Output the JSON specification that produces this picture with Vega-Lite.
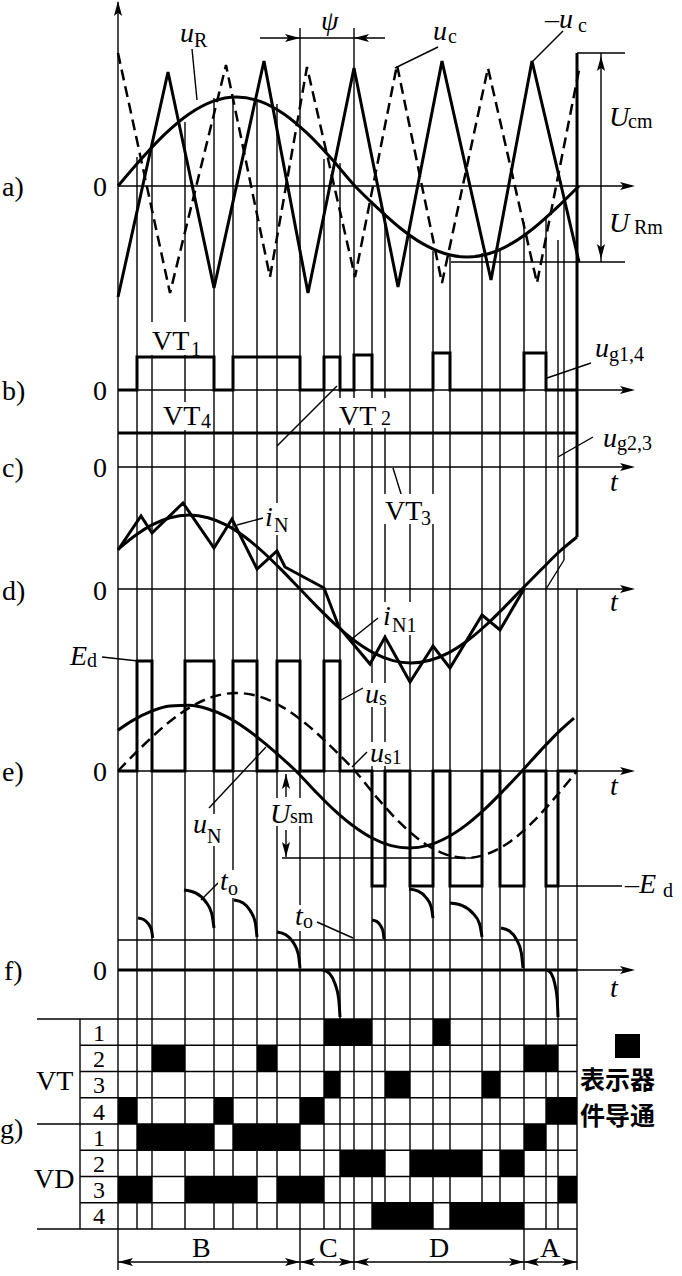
{
"$schema":"https://vega.github.io/schema/vega-lite/v6.json",
"width":682,"height":1276,
"autosize":{"type":"fit","contains":"padding"},
"padding":0,
"background":"white",
"config":{"view":{"stroke":null}},
"datasets":{
"rules":[
{"x":118,"y":2,"x2":118,"y2":1270},
{"x":137,"y":157,"x2":137,"y2":1229},
{"x":152,"y":147,"x2":152,"y2":1229},
{"x":185,"y":122,"x2":185,"y2":1229},
{"x":214,"y":98,"x2":214,"y2":1229},
{"x":233,"y":98,"x2":233,"y2":1229},
{"x":257,"y":100,"x2":257,"y2":1229},
{"x":277,"y":104,"x2":277,"y2":1229},
{"x":300,"y":28,"x2":300,"y2":1270},
{"x":324,"y":159,"x2":324,"y2":1229},
{"x":340,"y":163,"x2":340,"y2":1229},
{"x":354,"y":28,"x2":354,"y2":1270},
{"x":372,"y":201,"x2":372,"y2":1229},
{"x":385,"y":213,"x2":385,"y2":1229},
{"x":410,"y":236,"x2":410,"y2":1229},
{"x":433,"y":251,"x2":433,"y2":1229},
{"x":450,"y":256,"x2":450,"y2":1229},
{"x":482,"y":253,"x2":482,"y2":1229},
{"x":500,"y":249,"x2":500,"y2":1229},
{"x":524,"y":222,"x2":524,"y2":1270},
{"x":546,"y":217,"x2":546,"y2":1229},
{"x":558,"y":240,"x2":558,"y2":1229},
{"x":564,"y":200,"x2":564,"y2":560},
{"x":577,"y":589,"x2":577,"y2":1270},
{"x":80,"y":1019,"x2":80,"y2":1229},
{"x":118,"y":186,"x2":632,"y2":186},
{"x":118,"y":390,"x2":632,"y2":390},
{"x":118,"y":467,"x2":632,"y2":467},
{"x":118,"y":589,"x2":632,"y2":589},
{"x":118,"y":771,"x2":632,"y2":771},
{"x":577,"y":970,"x2":632,"y2":970},
{"x":118,"y":940,"x2":577,"y2":940},
{"x":37,"y":1019,"x2":577,"y2":1019},
{"x":80,"y":1045.25,"x2":577,"y2":1045.25},
{"x":80,"y":1071.5,"x2":577,"y2":1071.5},
{"x":80,"y":1097.75,"x2":577,"y2":1097.75},
{"x":37,"y":1124,"x2":577,"y2":1124},
{"x":80,"y":1150.25,"x2":577,"y2":1150.25},
{"x":80,"y":1176.5,"x2":577,"y2":1176.5},
{"x":80,"y":1202.75,"x2":577,"y2":1202.75},
{"x":37,"y":1229,"x2":577,"y2":1229},
{"x":118,"y":1262,"x2":577,"y2":1262},
{"x":260,"y":38,"x2":385,"y2":38},
{"x":577,"y":53,"x2":625,"y2":53},
{"x":601,"y":53,"x2":601,"y2":262},
{"x":451,"y":262,"x2":625,"y2":262},
{"x":286,"y":774,"x2":286,"y2":797},
{"x":286,"y":830,"x2":286,"y2":857},
{"x":282,"y":858,"x2":472,"y2":858},
{"x":558,"y":886,"x2":622,"y2":886},
{"x":546,"y":589,"x2":564,"y2":560},
{"x":197,"y":100,"x2":192,"y2":49},
{"x":395,"y":68,"x2":438,"y2":47},
{"x":532,"y":62,"x2":563,"y2":31},
{"x":547,"y":378,"x2":591,"y2":363},
{"x":558,"y":457,"x2":593,"y2":437},
{"x":277,"y":446,"x2":337,"y2":386},
{"x":393,"y":468,"x2":402,"y2":497},
{"x":237,"y":525,"x2":263,"y2":518},
{"x":353,"y":638,"x2":378,"y2":618},
{"x":102,"y":657,"x2":138,"y2":661},
{"x":341,"y":700,"x2":363,"y2":688},
{"x":352,"y":767,"x2":367,"y2":752},
{"x":209,"y":808,"x2":266,"y2":747},
{"x":201,"y":900,"x2":218,"y2":883},
{"x":317,"y":922,"x2":353,"y2":938}
],
"masks":[
{"x":150,"x2":203,"y":322,"y2":355},
{"x":160,"x2":212,"y":402,"y2":430},
{"x":336,"x2":400,"y":398,"y2":428},
{"x":383,"x2":438,"y":494,"y2":524},
{"x":191,"x2":228,"y":814,"y2":846},
{"x":268,"x2":320,"y":798,"y2":826},
{"x":363,"x2":394,"y":683,"y2":707},
{"x":368,"x2":406,"y":742,"y2":766},
{"x":381,"x2":426,"y":602,"y2":635},
{"x":263,"x2":298,"y":503,"y2":535},
{"x":218,"x2":244,"y":870,"y2":898},
{"x":293,"x2":315,"y":905,"y2":931}
],
"cells":[
{"x":324,"x2":372,"y":1019,"y2":1045.25},
{"x":433,"x2":450,"y":1019,"y2":1045.25},
{"x":152,"x2":185,"y":1045.25,"y2":1071.5},
{"x":257,"x2":277,"y":1045.25,"y2":1071.5},
{"x":524,"x2":558,"y":1045.25,"y2":1071.5},
{"x":324,"x2":340,"y":1071.5,"y2":1097.75},
{"x":385,"x2":410,"y":1071.5,"y2":1097.75},
{"x":482,"x2":500,"y":1071.5,"y2":1097.75},
{"x":118,"x2":137,"y":1097.75,"y2":1124},
{"x":214,"x2":233,"y":1097.75,"y2":1124},
{"x":300,"x2":324,"y":1097.75,"y2":1124},
{"x":546,"x2":577,"y":1097.75,"y2":1124},
{"x":137,"x2":214,"y":1124,"y2":1150.25},
{"x":233,"x2":300,"y":1124,"y2":1150.25},
{"x":524,"x2":546,"y":1124,"y2":1150.25},
{"x":340,"x2":385,"y":1150.25,"y2":1176.5},
{"x":410,"x2":482,"y":1150.25,"y2":1176.5},
{"x":500,"x2":524,"y":1150.25,"y2":1176.5},
{"x":118,"x2":152,"y":1176.5,"y2":1202.75},
{"x":185,"x2":257,"y":1176.5,"y2":1202.75},
{"x":277,"x2":324,"y":1176.5,"y2":1202.75},
{"x":558,"x2":577,"y":1176.5,"y2":1202.75},
{"x":372,"x2":433,"y":1202.75,"y2":1229},
{"x":450,"x2":524,"y":1202.75,"y2":1229},
{"x":615,"x2":640,"y":1034,"y2":1058}
],
"thickLin":[
{"s":"ncar","o":0,"x":118,"y":297},{"s":"ncar","o":1,"x":168,"y":72},{"s":"ncar","o":2,"x":214,"y":288},{"s":"ncar","o":3,"x":264,"y":61},{"s":"ncar","o":4,"x":308,"y":293},{"s":"ncar","o":5,"x":354,"y":68},{"s":"ncar","o":6,"x":398,"y":287},{"s":"ncar","o":7,"x":442,"y":61},{"s":"ncar","o":8,"x":491,"y":280},{"s":"ncar","o":9,"x":532,"y":61},{"s":"ncar","o":10,"x":579,"y":262},
{"s":"ug14","o":0,"x":118,"y":390},{"s":"ug14","o":1,"x":137,"y":390},{"s":"ug14","o":2,"x":137,"y":357},{"s":"ug14","o":3,"x":214,"y":357},{"s":"ug14","o":4,"x":214,"y":390},{"s":"ug14","o":5,"x":233,"y":390},{"s":"ug14","o":6,"x":233,"y":357},{"s":"ug14","o":7,"x":300,"y":357},{"s":"ug14","o":8,"x":300,"y":390},{"s":"ug14","o":9,"x":324,"y":390},{"s":"ug14","o":10,"x":324,"y":357},{"s":"ug14","o":11,"x":340,"y":357},{"s":"ug14","o":12,"x":340,"y":390},{"s":"ug14","o":13,"x":354,"y":390},{"s":"ug14","o":14,"x":354,"y":355},{"s":"ug14","o":15,"x":372,"y":355},{"s":"ug14","o":16,"x":372,"y":390},{"s":"ug14","o":17,"x":433,"y":390},{"s":"ug14","o":18,"x":433,"y":353},{"s":"ug14","o":19,"x":450,"y":353},{"s":"ug14","o":20,"x":450,"y":390},{"s":"ug14","o":21,"x":524,"y":390},{"s":"ug14","o":22,"x":524,"y":353},{"s":"ug14","o":23,"x":546,"y":353},{"s":"ug14","o":24,"x":546,"y":390},{"s":"ug14","o":25,"x":577,"y":390},
{"s":"ug23","o":0,"x":118,"y":433},{"s":"ug23","o":1,"x":577,"y":433},
{"s":"inz","o":0,"x":118,"y":550},{"s":"inz","o":1,"x":141,"y":516},{"s":"inz","o":2,"x":152,"y":533},{"s":"inz","o":3,"x":183,"y":503},{"s":"inz","o":4,"x":214,"y":548},{"s":"inz","o":5,"x":232,"y":519},{"s":"inz","o":6,"x":257,"y":569},{"s":"inz","o":7,"x":277,"y":551},{"s":"inz","o":8,"x":285,"y":567},{"s":"inz","o":9,"x":324,"y":588},{"s":"inz","o":10,"x":339,"y":627},{"s":"inz","o":11,"x":370,"y":664},{"s":"inz","o":12,"x":385,"y":637},{"s":"inz","o":13,"x":410,"y":682},{"s":"inz","o":14,"x":433,"y":646},{"s":"inz","o":15,"x":450,"y":668},{"s":"inz","o":16,"x":482,"y":615},{"s":"inz","o":17,"x":500,"y":630},{"s":"inz","o":18,"x":524,"y":589},
{"s":"rl","o":0,"x":577,"y":53},{"s":"rl","o":1,"x":577,"y":537},
{"s":"us","o":0,"x":118,"y":771},{"s":"us","o":1,"x":137,"y":771},{"s":"us","o":2,"x":137,"y":661},{"s":"us","o":3,"x":152,"y":661},{"s":"us","o":4,"x":152,"y":771},{"s":"us","o":5,"x":185,"y":771},{"s":"us","o":6,"x":185,"y":661},{"s":"us","o":7,"x":214,"y":661},{"s":"us","o":8,"x":214,"y":771},{"s":"us","o":9,"x":233,"y":771},{"s":"us","o":10,"x":233,"y":661},{"s":"us","o":11,"x":257,"y":661},{"s":"us","o":12,"x":257,"y":771},{"s":"us","o":13,"x":277,"y":771},{"s":"us","o":14,"x":277,"y":661},{"s":"us","o":15,"x":300,"y":661},{"s":"us","o":16,"x":300,"y":771},{"s":"us","o":17,"x":324,"y":771},{"s":"us","o":18,"x":324,"y":661},{"s":"us","o":19,"x":340,"y":661},{"s":"us","o":20,"x":340,"y":771},{"s":"us","o":21,"x":372,"y":771},{"s":"us","o":22,"x":372,"y":886},{"s":"us","o":23,"x":385,"y":886},{"s":"us","o":24,"x":385,"y":771},{"s":"us","o":25,"x":410,"y":771},{"s":"us","o":26,"x":410,"y":886},{"s":"us","o":27,"x":433,"y":886},{"s":"us","o":28,"x":433,"y":771},{"s":"us","o":29,"x":450,"y":771},{"s":"us","o":30,"x":450,"y":886},{"s":"us","o":31,"x":482,"y":886},{"s":"us","o":32,"x":482,"y":771},{"s":"us","o":33,"x":500,"y":771},{"s":"us","o":34,"x":500,"y":886},{"s":"us","o":35,"x":524,"y":886},{"s":"us","o":36,"x":524,"y":771},{"s":"us","o":37,"x":546,"y":771},{"s":"us","o":38,"x":546,"y":886},{"s":"us","o":39,"x":558,"y":886},{"s":"us","o":40,"x":558,"y":771},{"s":"us","o":41,"x":577,"y":771},
{"s":"f0","o":0,"x":118,"y":970},{"s":"f0","o":1,"x":577,"y":970}
],
"thickSmooth":[
{"s":"ur","o":0,"x":118,"y":186},{"s":"ur","o":1,"x":141.7,"y":158.5},{"s":"ur","o":2,"x":165.4,"y":133.7},{"s":"ur","o":3,"x":189.1,"y":114},{"s":"ur","o":4,"x":212.8,"y":101.4},{"s":"ur","o":5,"x":236.5,"y":97},{"s":"ur","o":6,"x":260.2,"y":101.4},{"s":"ur","o":7,"x":283.9,"y":114},{"s":"ur","o":8,"x":307.6,"y":133.7},{"s":"ur","o":9,"x":331.3,"y":158.5},{"s":"ur","o":10,"x":355,"y":186},{"s":"ur","o":11,"x":377.4,"y":207.9},{"s":"ur","o":12,"x":399.8,"y":227.7},{"s":"ur","o":13,"x":422.2,"y":243.4},{"s":"ur","o":14,"x":444.6,"y":253.5},{"s":"ur","o":15,"x":467,"y":257},{"s":"ur","o":16,"x":489.4,"y":253.5},{"s":"ur","o":17,"x":511.8,"y":243.4},{"s":"ur","o":18,"x":534.2,"y":227.7},{"s":"ur","o":19,"x":556.6,"y":207.9},{"s":"ur","o":20,"x":579,"y":186},
{"s":"in1","o":0,"x":118,"y":549.3},{"s":"in1","o":1,"x":137,"y":534.2},{"s":"in1","o":2,"x":152,"y":524.9},{"s":"in1","o":3,"x":170,"y":517.7},{"s":"in1","o":4,"x":189,"y":515},{"s":"in1","o":5,"x":208,"y":517.7},{"s":"in1","o":6,"x":226,"y":524.9},{"s":"in1","o":7,"x":245,"y":537},{"s":"in1","o":8,"x":263,"y":552},{"s":"in1","o":9,"x":282,"y":570.4},{"s":"in1","o":10,"x":300,"y":589},{"s":"in1","o":11,"x":318,"y":607.6},{"s":"in1","o":12,"x":337,"y":626},{"s":"in1","o":13,"x":356,"y":641.7},{"s":"in1","o":14,"x":374,"y":653.1},{"s":"in1","o":15,"x":393,"y":660.6},{"s":"in1","o":16,"x":411,"y":663},{"s":"in1","o":17,"x":430,"y":660.3},{"s":"in1","o":18,"x":448,"y":653.1},{"s":"in1","o":19,"x":467,"y":641},{"s":"in1","o":20,"x":485,"y":626},{"s":"in1","o":21,"x":504,"y":607.6},{"s":"in1","o":22,"x":522,"y":589},{"s":"in1","o":23,"x":541,"y":569.8},{"s":"in1","o":24,"x":559,"y":552},{"s":"in1","o":25,"x":577,"y":537},
{"s":"un","o":0,"x":118,"y":730.2},{"s":"un","o":1,"x":132,"y":720.9},{"s":"un","o":2,"x":151,"y":711.4},{"s":"un","o":3,"x":170,"y":706.1},{"s":"un","o":4,"x":189,"y":705.3},{"s":"un","o":5,"x":208,"y":709},{"s":"un","o":6,"x":226,"y":716.4},{"s":"un","o":7,"x":245,"y":728},{"s":"un","o":8,"x":264,"y":742.6},{"s":"un","o":9,"x":283,"y":759},{"s":"un","o":10,"x":296,"y":771},{"s":"un","o":11,"x":315,"y":791.1},{"s":"un","o":12,"x":334,"y":809.9},{"s":"un","o":13,"x":353,"y":825.8},{"s":"un","o":14,"x":372,"y":838},{"s":"un","o":15,"x":391,"y":845.6},{"s":"un","o":16,"x":409,"y":848},{"s":"un","o":17,"x":428,"y":845.4},{"s":"un","o":18,"x":447,"y":837.5},{"s":"un","o":19,"x":466,"y":825.1},{"s":"un","o":20,"x":485,"y":808.9},{"s":"un","o":21,"x":504,"y":790},{"s":"un","o":22,"x":522,"y":771},{"s":"un","o":23,"x":541,"y":750.1},{"s":"un","o":24,"x":560,"y":730.6},{"s":"un","o":25,"x":574,"y":718.1},
{"s":"a1","o":0,"x":138,"y":918},{"s":"a1","o":1,"x":143.6,"y":919.5},{"s":"a1","o":2,"x":148.4,"y":923.9},{"s":"a1","o":3,"x":151.6,"y":930.3},{"s":"a1","o":4,"x":152.7,"y":938},
{"s":"a2","o":0,"x":184,"y":890},{"s":"a2","o":1,"x":195.5,"y":892.9},{"s":"a2","o":2,"x":205.2,"y":901.1},{"s":"a2","o":3,"x":211.7,"y":913.4},{"s":"a2","o":4,"x":214,"y":928},
{"s":"a3","o":0,"x":234,"y":900},{"s":"a3","o":1,"x":242.8,"y":902.8},{"s":"a3","o":2,"x":250.3,"y":910.8},{"s":"a3","o":3,"x":255.3,"y":922.8},{"s":"a3","o":4,"x":257,"y":937},
{"s":"a4","o":0,"x":277,"y":932},{"s":"a4","o":1,"x":285.8,"y":934.7},{"s":"a4","o":2,"x":293.3,"y":942.5},{"s":"a4","o":3,"x":298.3,"y":954.2},{"s":"a4","o":4,"x":300,"y":968},
{"s":"a5","o":0,"x":323,"y":970},{"s":"a5","o":1,"x":329.5,"y":973.6},{"s":"a5","o":2,"x":335,"y":983.8},{"s":"a5","o":3,"x":338.7,"y":999},{"s":"a5","o":4,"x":340,"y":1017},
{"s":"a6","o":0,"x":372,"y":920},{"s":"a6","o":1,"x":376.6,"y":921.4},{"s":"a6","o":2,"x":380.5,"y":925.6},{"s":"a6","o":3,"x":383.1,"y":931.7},{"s":"a6","o":4,"x":384,"y":939},
{"s":"a7","o":0,"x":409,"y":889},{"s":"a7","o":1,"x":418.2,"y":891.2},{"s":"a7","o":2,"x":426,"y":897.5},{"s":"a7","o":3,"x":431.2,"y":906.9},{"s":"a7","o":4,"x":433,"y":918},
{"s":"a8","o":0,"x":450,"y":903},{"s":"a8","o":1,"x":462.3,"y":905.6},{"s":"a8","o":2,"x":472.6,"y":913},{"s":"a8","o":3,"x":479.6,"y":924},{"s":"a8","o":4,"x":482,"y":937},
{"s":"a9","o":0,"x":501,"y":928},{"s":"a9","o":1,"x":509.4,"y":931},{"s":"a9","o":2,"x":516.6,"y":939.7},{"s":"a9","o":3,"x":521.3,"y":952.7},{"s":"a9","o":4,"x":523,"y":968},
{"s":"a10","o":0,"x":547,"y":970},{"s":"a10","o":1,"x":551.2,"y":973.6},{"s":"a10","o":2,"x":554.8,"y":983.8},{"s":"a10","o":3,"x":557.2,"y":999},{"s":"a10","o":4,"x":558,"y":1017}
],
"dashLin":[
{"s":"uc","o":0,"x":118,"y":53},{"s":"uc","o":1,"x":170,"y":293},{"s":"uc","o":2,"x":226,"y":65},{"s":"uc","o":3,"x":270,"y":277},{"s":"uc","o":4,"x":307,"y":67},{"s":"uc","o":5,"x":355,"y":277},{"s":"uc","o":6,"x":397,"y":65},{"s":"uc","o":7,"x":442,"y":283},{"s":"uc","o":8,"x":488,"y":68},{"s":"uc","o":9,"x":537,"y":283},{"s":"uc","o":10,"x":579,"y":70}
],
"dashSmooth":[
{"s":"us1","o":0,"x":118,"y":771},{"s":"us1","o":1,"x":141.7,"y":746.9},{"s":"us1","o":2,"x":165.4,"y":725.1},{"s":"us1","o":3,"x":189.1,"y":707.9},{"s":"us1","o":4,"x":212.8,"y":696.8},{"s":"us1","o":5,"x":236.5,"y":693},{"s":"us1","o":6,"x":260.2,"y":696.8},{"s":"us1","o":7,"x":283.9,"y":707.9},{"s":"us1","o":8,"x":307.6,"y":725.1},{"s":"us1","o":9,"x":331.3,"y":746.9},{"s":"us1","o":10,"x":355,"y":771},{"s":"us1","o":11,"x":377.2,"y":797.9},{"s":"us1","o":12,"x":399.4,"y":822.2},{"s":"us1","o":13,"x":421.6,"y":841.4},{"s":"us1","o":14,"x":443.8,"y":853.7},{"s":"us1","o":15,"x":466,"y":858},{"s":"us1","o":16,"x":488.2,"y":853.7},{"s":"us1","o":17,"x":510.4,"y":841.4},{"s":"us1","o":18,"x":532.6,"y":822.2},{"s":"us1","o":19,"x":554.8,"y":797.9},{"s":"us1","o":20,"x":577,"y":771}
],
"arrowR":[{"x":635,"y":186},{"x":635,"y":390},{"x":635,"y":467},{"x":635,"y":589},{"x":635,"y":771},{"x":635,"y":970},{"x":300,"y":38},{"x":300,"y":1262},{"x":354,"y":1262},{"x":524,"y":1262},{"x":577,"y":1262}],
"arrowL":[{"x":354,"y":38},{"x":118,"y":1262},{"x":300,"y":1262},{"x":354,"y":1262},{"x":524,"y":1262}],
"arrowU":[{"x":118,"y":1},{"x":601,"y":56},{"x":286,"y":774}],
"arrowD":[{"x":601,"y":259},{"x":286,"y":857}],
"roman":[
{"t":"a)","x":2,"y":196},{"t":"b)","x":2,"y":400},{"t":"c)","x":2,"y":477},{"t":"d)","x":2,"y":600},{"t":"e)","x":2,"y":781},{"t":"f)","x":4,"y":980},{"t":"g)","x":0,"y":1138},
{"t":"0","x":93,"y":196},{"t":"0","x":93,"y":400},{"t":"0","x":93,"y":477},{"t":"0","x":93,"y":600},{"t":"0","x":93,"y":781},{"t":"0","x":93,"y":980},
{"t":"VT","x":152,"y":350},{"t":"VT","x":163,"y":425},{"t":"VT","x":339,"y":425},{"t":"VT","x":385,"y":520},
{"t":"VT","x":36,"y":1090},{"t":"VD","x":34,"y":1188},
{"t":"B","x":192,"y":1257},{"t":"C","x":319,"y":1257},{"t":"D","x":429,"y":1257},{"t":"A","x":540,"y":1257}
],
"gridnum":[
{"t":"1","x":93,"y":1041},{"t":"2","x":93,"y":1067},{"t":"3","x":93,"y":1093},{"t":"4","x":93,"y":1120},{"t":"1","x":93,"y":1146},{"t":"2","x":93,"y":1172},{"t":"3","x":93,"y":1198},{"t":"4","x":93,"y":1224}
],
"italic":[
{"t":"u","x":180,"y":42},{"t":"ψ","x":321,"y":30},{"t":"u","x":433,"y":40},{"t":"–u","x":545,"y":28},
{"t":"U","x":609,"y":126},{"t":"U","x":609,"y":232},{"t":"u","x":595,"y":357},{"t":"u","x":603,"y":447},
{"t":"t","x":610,"y":491},{"t":"t","x":610,"y":611},{"t":"t","x":610,"y":795},{"t":"t","x":610,"y":997},
{"t":"i","x":265,"y":526},{"t":"i","x":383,"y":625},{"t":"E","x":70,"y":665},{"t":"u","x":365,"y":703},
{"t":"u","x":370,"y":762},{"t":"u","x":193,"y":833},{"t":"U","x":270,"y":823},{"t":"–E","x":625,"y":893},
{"t":"t","x":220,"y":890},{"t":"t","x":295,"y":925}
],
"sub":[
{"t":"R","x":194,"y":47},{"t":"c","x":448,"y":43},{"t":"c","x":578,"y":32},{"t":"cm","x":628,"y":128},{"t":"Rm","x":634,"y":234},
{"t":"1","x":191,"y":356},{"t":"4","x":201,"y":428},{"t":"2","x":381,"y":425},{"t":"3","x":421,"y":525},
{"t":"g1,4","x":609,"y":361},{"t":"g2,3","x":617,"y":450},{"t":"N","x":274,"y":532},{"t":"N1","x":392,"y":632},
{"t":"d","x":87,"y":667},{"t":"s","x":379,"y":705},{"t":"s1","x":384,"y":764},{"t":"N","x":207,"y":843},{"t":"sm","x":290,"y":823},
{"t":"d","x":663,"y":897},{"t":"o","x":228,"y":895},{"t":"o","x":303,"y":928}
],
"cjk":[{"t":["表示器","件导通"],"x":580,"y":1089}]
},
"encoding":{
"x":{"field":"x","type":"quantitative","scale":{"domain":[0,682],"nice":false,"zero":false},"axis":null},
"y":{"field":"y","type":"quantitative","scale":{"domain":[0,1276],"nice":false,"zero":false,"reverse":true},"axis":null}
},
"layer":[
{"data":{"name":"rules"},"mark":{"type":"rule","stroke":"black","strokeWidth":1.4},"encoding":{"x2":{"field":"x2"},"y2":{"field":"y2"}}},
{"data":{"name":"masks"},"mark":{"type":"rect","fill":"white"},"encoding":{"x2":{"field":"x2"},"y2":{"field":"y2"}}},
{"data":{"name":"cells"},"mark":{"type":"rect","fill":"black"},"encoding":{"x2":{"field":"x2"},"y2":{"field":"y2"}}},
{"data":{"name":"thickLin"},"mark":{"type":"line","stroke":"black","strokeWidth":3,"interpolate":"linear"},"encoding":{"detail":{"field":"s","type":"nominal"},"order":{"field":"o","type":"quantitative"}}},
{"data":{"name":"thickSmooth"},"mark":{"type":"line","stroke":"black","strokeWidth":3,"interpolate":"monotone"},"encoding":{"detail":{"field":"s","type":"nominal"},"order":{"field":"o","type":"quantitative"}}},
{"data":{"name":"dashLin"},"mark":{"type":"line","stroke":"black","strokeWidth":2.5,"strokeDash":[11,6],"interpolate":"linear"},"encoding":{"detail":{"field":"s","type":"nominal"},"order":{"field":"o","type":"quantitative"}}},
{"data":{"name":"dashSmooth"},"mark":{"type":"line","stroke":"black","strokeWidth":2.5,"strokeDash":[11,6],"interpolate":"monotone"},"encoding":{"detail":{"field":"s","type":"nominal"},"order":{"field":"o","type":"quantitative"}}},
{"data":{"name":"arrowR"},"mark":{"type":"point","shape":"M0,0L-1,-0.27L-0.78,0L-1,0.27Z","filled":true,"color":"black","opacity":1,"size":900,"angle":0}},
{"data":{"name":"arrowL"},"mark":{"type":"point","shape":"M0,0L-1,-0.27L-0.78,0L-1,0.27Z","filled":true,"color":"black","opacity":1,"size":900,"angle":180}},
{"data":{"name":"arrowU"},"mark":{"type":"point","shape":"M0,0L-1,-0.27L-0.78,0L-1,0.27Z","filled":true,"color":"black","opacity":1,"size":900,"angle":270}},
{"data":{"name":"arrowD"},"mark":{"type":"point","shape":"M0,0L-1,-0.27L-0.78,0L-1,0.27Z","filled":true,"color":"black","opacity":1,"size":900,"angle":90}},
{"data":{"name":"roman"},"mark":{"type":"text","font":"Liberation Serif","fontSize":28,"align":"left","baseline":"alphabetic","color":"black"},"encoding":{"text":{"field":"t"}}},
{"data":{"name":"gridnum"},"mark":{"type":"text","font":"Liberation Serif","fontSize":24,"align":"left","baseline":"alphabetic","color":"black"},"encoding":{"text":{"field":"t"}}},
{"data":{"name":"italic"},"mark":{"type":"text","font":"Liberation Serif","fontSize":28,"fontStyle":"italic","align":"left","baseline":"alphabetic","color":"black"},"encoding":{"text":{"field":"t"}}},
{"data":{"name":"sub"},"mark":{"type":"text","font":"Liberation Serif","fontSize":20,"align":"left","baseline":"alphabetic","color":"black"},"encoding":{"text":{"field":"t"}}},
{"data":{"name":"cjk"},"mark":{"type":"text","font":"Noto Sans CJK SC","fontSize":25,"fontWeight":"bold","lineHeight":36,"align":"left","baseline":"alphabetic","color":"black"},"encoding":{"text":{"field":"t"}}}
]
}
